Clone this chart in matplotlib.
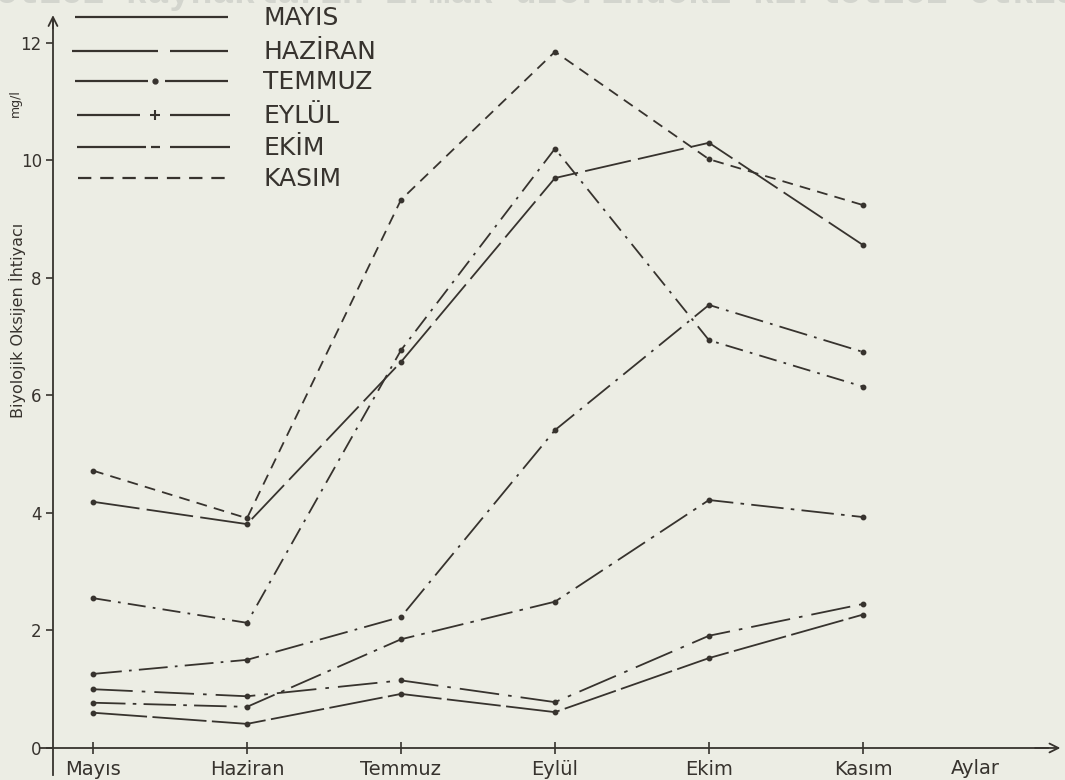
import matplotlib.pyplot as plt

# x categories (months) and y ticks
months = ["Mayıs", "Haziran", "Temmuz", "Eylül", "Ekim", "Kasım"]
yticks = [0, 2, 4, 6, 8, 10, 12]

# BOD values (mg/l)
s_kasim = [4.72, 3.91, 9.33, 11.85, 10.02, 9.24]
s_mayis = [4.19, 3.81, 6.57, 9.70, 10.30, 8.56]
s_ekim = [2.55, 2.13, 6.77, 10.20, 6.94, 6.15]
s_temmuz = [1.26, 1.50, 2.23, 5.41, 7.54, 6.74]
s_eylul = [1.00, 0.88, 1.15, 0.78, 1.91, 2.45]
s_haziran = [0.77, 0.70, 1.85, 2.49, 4.22, 3.93]
s_other = [0.60, 0.41, 0.92, 0.61, 1.53, 2.27]

legend_names = ["MAYIS", "HAZİRAN", "TEMMUZ", "EYLÜL", "EKİM", "KASIM"]

ink = '#37332e'
paper = '#ecede4'
W, H = 1065, 780


def px(x, y):  # pixel -> axes fraction (axes fill the figure)
    return x / W, 1 - y / H


fig = plt.figure(figsize=(W / 100, H / 100), dpi=100, facecolor=paper)
ax = fig.add_axes([0, 0, 1, 1], facecolor=paper)
ax.set_xlim(-0.604, 6.312)
ax.set_ylim(-0.545, 12.73)

# faint page title showing through at the top (cut by the page edge)
fig.text(-0.004, 1.008, "etici kaynakların ırmak üzerindeki kirletici etkisin",
         family='Liberation Mono', weight='bold', size=26, color='#d3d5ce',
         va='center', ha='left', zorder=0)

x = range(len(months))
series = [
    (s_kasim, (0, (6, 4))),
    (s_mayis, (0, (26, 4))),
    (s_ekim, (0, (10, 4, 1.5, 4))),
    (s_temmuz, (0, (16, 4, 1.5, 4))),
    (s_eylul, (0, (22, 5, 2, 5))),
    (s_haziran, (0, (18, 4, 2, 4))),
    (s_other, (0, (30, 3))),
]
for vals, ls in series:
    ax.plot(x, vals, color=ink, lw=1.3, linestyle=ls, marker='o', ms=3.2,
            dash_capstyle='butt')

# axes
for s in ['top', 'right']:
    ax.spines[s].set_visible(False)
ax.spines['left'].set_position(('data', -0.26))
ax.spines['bottom'].set_position(('data', 0))
ax.spines['left'].set_bounds(-0.46, 12.4)
ax.spines['bottom'].set_bounds(-0.344, 6.2)
for s in ['left', 'bottom']:
    ax.spines[s].set_color(ink)
    ax.spines[s].set_linewidth(1.3)
ax.annotate('', xy=(-0.26, 12.52), xytext=(-0.26, 12.2),
            arrowprops=dict(arrowstyle='->', color=ink, lw=1.3, mutation_scale=16))
ax.annotate('', xy=(6.3, 0), xytext=(6.1, 0),
            arrowprops=dict(arrowstyle='->', color=ink, lw=1.3, mutation_scale=16))

ax.set_yticks(yticks)
ax.set_yticklabels([str(v) for v in yticks])
ax.set_xticks(list(x))
ax.set_xticklabels(months)
ax.tick_params(axis='y', direction='out', length=5, width=1.2, pad=3,
               colors=ink, labelsize=12)
ax.tick_params(axis='x', direction='inout', length=8, width=1.2, pad=5,
               colors=ink, labelsize=14)

ax.text(*px(975, 768), "Aylar", transform=ax.transAxes, ha='center',
        va='center', fontsize=14, color=ink)
ax.text(*px(17, 320), "Biyolojik Oksijen İhtiyacı", transform=ax.transAxes,
        rotation=90, ha='center', va='center', fontsize=11.5, color=ink)
ax.text(*px(15, 103), "mg/l", transform=ax.transAxes, rotation=90,
        ha='center', va='center', fontsize=9, color=ink)

# hand-drawn style legend in the upper left
rows = [17, 51, 81, 115, 147, 178]
lk = dict(color=ink, lw=1.6, transform=ax.transAxes, solid_capstyle='butt')


def seg(x0, x1, y, **kw):
    a, b = px(x0, y), px(x1, y)
    ax.plot([a[0], b[0]], [a[1], b[1]], **{**lk, **kw})


seg(75, 228, rows[0])
seg(72, 158, rows[1])
seg(170, 228, rows[1])
seg(75, 148, rows[2])
ax.plot(*px(155, rows[2]), 'o', ms=3.5, color=ink, transform=ax.transAxes)
seg(165, 228, rows[2])
seg(77, 140, rows[3])
ax.plot(*px(155, rows[3]), '+', ms=7, mew=1.5, color=ink, transform=ax.transAxes)
seg(170, 230, rows[3])
seg(77, 146, rows[4])
seg(151, 160, rows[4])
seg(170, 230, rows[4])
seg(78, 228, rows[5], linestyle=(0, (6, 4)))

for name, r in zip(legend_names, rows):
    ax.text(*px(263, r + 1), name, transform=ax.transAxes, ha='left',
            va='center', fontsize=18, color=ink)

fig.savefig('out.png', dpi=100, facecolor=paper)
